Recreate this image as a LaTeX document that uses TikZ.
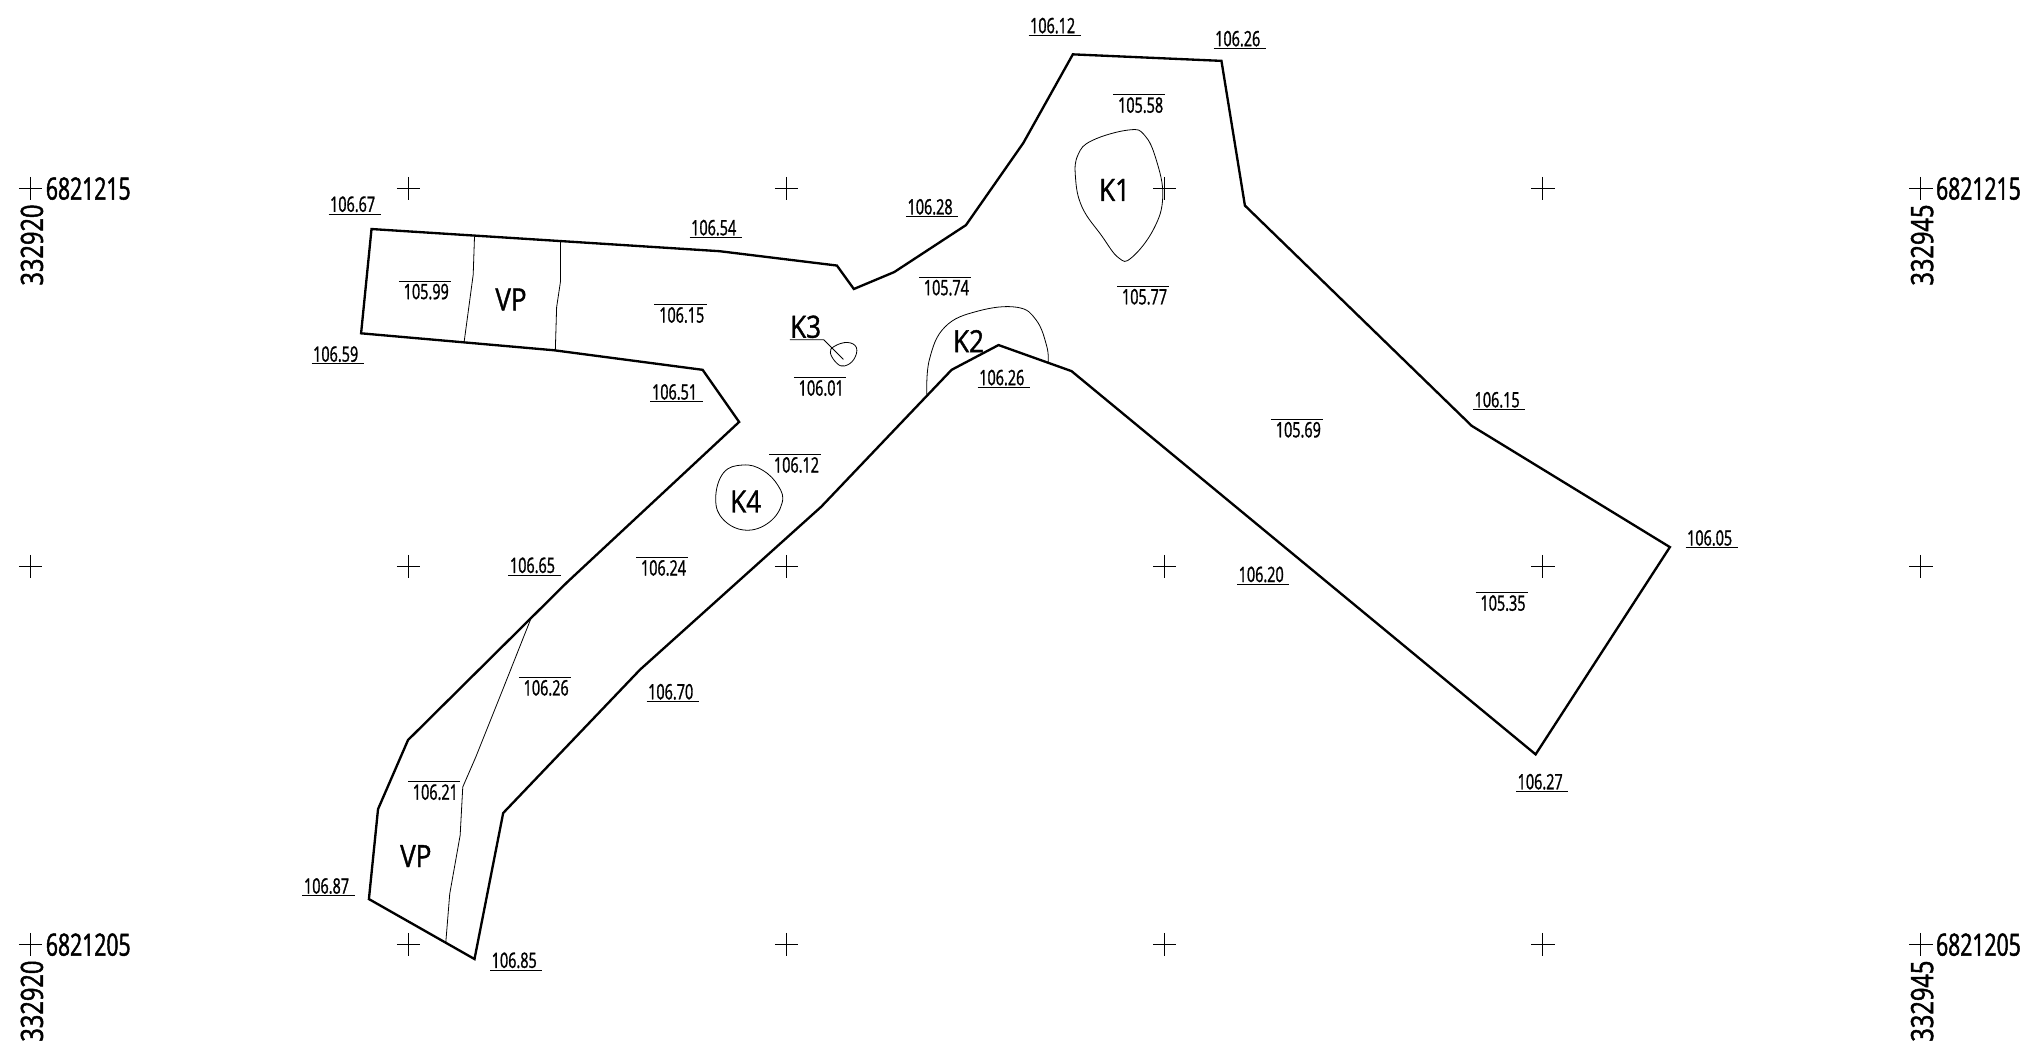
\documentclass[tikz,border=0pt]{standalone}
\usepackage{fontspec}
\setmainfont{Open Sans}
\newfontfamily\smallf[FakeStretch=0.68,FakeBold=1.3]{Open Sans}
\newfontfamily\bigf[FakeStretch=0.85,FakeBold=1.2]{Open Sans}
\newfontfamily\numf[FakeStretch=0.69,FakeBold=1.5]{Open Sans}
\newfontfamily\eastf[FakeStretch=0.77,FakeBold=1.5]{Open Sans}
\usetikzlibrary{calc}
\tikzset{x=0.9777pt,y=-0.9777pt,
 outline/.style={line width=1.75pt,line join=miter},
 thin line/.style={line width=0.6pt},
 rulel/.style={line width=0.7pt},
 crossl/.style={line width=0.55pt},
 elev/.style={inner sep=0pt,font=\smallf\fontsize{15.9}{16}\selectfont},
 big/.style={inner sep=0pt,font=\bigf\fontsize{23}{24}\selectfont},
 coord/.style={inner sep=0pt,font=\numf\fontsize{23}{24}\selectfont},
 coordr/.style={inner sep=0pt,rotate=90,anchor=east,font=\eastf\fontsize{23}{24}\selectfont}}
\newcommand\ulab[4]{\node[elev] (#1) at ($(#2,#3)+(-1.5,0)$) {#4};
 \draw[rulel] ($(#2,#3)+(-20,7.5)$) -- ($(#2,#3)+(20,7.5)$);}
\newcommand\olab[4]{\node[elev] (#1) at ($(#2,#3)+(1,0)$) {#4};
 \draw[rulel] ($(#2,#3)+(-20,-8)$) -- ($(#2,#3)+(20,-8)$);}
\begin{document}
\begin{tikzpicture}
\useasboundingbox (0,-0.7) rectangle (1568,810.1);
\foreach \cx in {23.5,313.5,603.5,893.5,1183.5,1473.5}
 \foreach \cy in {144,434,724}
  \draw[crossl] (\cx-9,\cy) -- (\cx+9,\cy) (\cx,\cy-9) -- (\cx,\cy+9);
\draw[outline] (285,175) -- (552,192) -- (642,203) -- (655,221) -- (686,208) -- (741,172) -- (785,109) -- (823,41) -- (937,46) -- (955,157) -- (1129,326) -- (1281,419) -- (1178,578) -- (822,284) -- (766,264) -- (730,283) -- (630,388) -- (491,513) -- (386,623) -- (364,735) -- (283,689) -- (290,620) -- (313,567) -- (435,446) -- (567,323) -- (539,283) -- (425,268) -- (277,255) -- cycle;
\draw[thin line] (364,181) -- (363,210) -- (356,262);
\draw[thin line] (430,185) -- (430,215) -- (427,235) -- (426,268);
\draw[thin line] (408,472) -- (385,530) -- (365,580) -- (355,603) -- (353,640) -- (345,685) -- (342,722);
\draw[thin line] plot[smooth cycle,tension=0.7] coordinates {(892,150) (885,175) (868,197) (858,197) (845,180) (830,158) (825,135) (827,118) (838,107) (866,99) (878,103) (887,122)};
\draw[thin line] plot[smooth,tension=0.7] coordinates {(711,302) (713,275) (725,250) (750,238) (780,235) (795,245) (803,265) (804,277)};
\draw[thin line] plot[smooth cycle,tension=0.7] coordinates {(640,265) (650,262) (657,266) (655,275) (648,280) (642,278) (637,270)};
\draw[thin line] plot[smooth cycle,tension=0.7] coordinates {(549,382) (555,362) (570,356) (585,360) (597,372) (600,385) (590,400) (572,406) (555,398)};
\draw[thin line] (606,260) -- (632,260) -- (647,275);
\node[big] (vpa) at (392,229) {VP};
\node[big] (vpb) at (319,656) {VP};
\node[big] (ka) at (855,145) {K1};
\node[big] (kb) at (743,261) {K2};
\node[big] (kc) at (618,250) {K3};
\node[big] (kd) at (572,384) {K4};
\ulab{ua}{809}{19}{106.12}
\ulab{ub}{951}{29}{106.26}
\ulab{uc}{272}{156}{106.67}
\ulab{ud}{549}{174}{106.54}
\ulab{ue}{715}{158}{106.28}
\ulab{uf}{259}{271}{106.59}
\ulab{ug}{519}{300}{106.51}
\ulab{uh}{770}{289}{106.26}
\ulab{ui}{1150}{306}{106.15}
\ulab{uj}{1313}{412}{106.05}
\ulab{uk}{410}{433}{106.65}
\ulab{ul}{969}{440}{106.20}
\ulab{um}{516}{530}{106.70}
\ulab{un}{1183}{599}{106.27}
\ulab{uo}{252}{679}{106.87}
\ulab{up}{396}{736}{106.85}
\olab{oa}{874}{80}{105.58}
\olab{ob}{725}{220}{105.74}
\olab{oc}{877}{227}{105.77}
\olab{od}{326}{223}{105.99}
\olab{oe}{522}{241}{106.15}
\olab{of}{629}{297}{106.01}
\olab{og}{610}{356}{106.12}
\olab{oh}{995}{329}{105.69}
\olab{oi}{508}{435}{106.24}
\olab{oj}{1152}{462}{105.35}
\olab{ok}{418}{527}{106.26}
\olab{ol}{333}{607}{106.21}
\node[coord,anchor=west] (na) at (35,144) {6821215};
\node[coord,anchor=west] (nb) at (35,724) {6821205};
\node[coord,anchor=west] (nc) at (1485,144) {6821215};
\node[coord,anchor=west] (nd) at (1485,724) {6821205};
\node[coordr] (ea) at (24.5,156) {332920};
\node[coordr] (eb) at (24.5,736) {332920};
\node[coordr] (ec) at (1474.5,156) {332945};
\node[coordr] (ed) at (1474.5,736) {332945};
\end{tikzpicture}
\end{document}
